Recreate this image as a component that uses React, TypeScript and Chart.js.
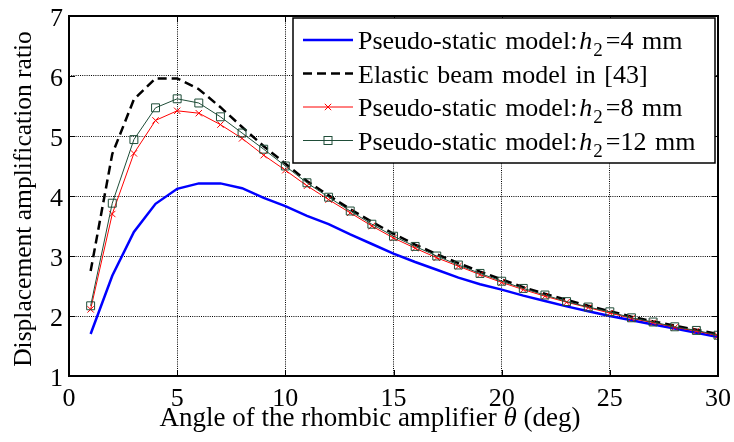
import React, { useEffect, useRef } from "react";
import { Chart, registerables } from "chart.js";

Chart.register(...registerables);

const angles = [1, 2, 3, 4, 5, 6, 7, 8, 9, 10, 11, 12, 13, 14, 15, 16, 17, 18, 19, 20, 21, 22, 23, 24, 25, 26, 27, 28, 29, 30];
const pseudoH4 = [1.70, 2.67, 3.40, 3.87, 4.12, 4.21, 4.21, 4.13, 3.97, 3.83, 3.67, 3.53, 3.36, 3.20, 3.04, 2.90, 2.77, 2.64, 2.53, 2.44, 2.34, 2.25, 2.16, 2.08, 2.00, 1.93, 1.86, 1.79, 1.72, 1.65];
const elasticBeam = [2.75, 4.70, 5.61, 5.96, 5.96, 5.78, 5.48, 5.15, 4.83, 4.54, 4.25, 4.01, 3.78, 3.57, 3.37, 3.19, 3.03, 2.88, 2.74, 2.61, 2.48, 2.37, 2.27, 2.17, 2.08, 1.99, 1.91, 1.84, 1.77, 1.70];
const pseudoH8 = [2.11, 3.70, 4.71, 5.26, 5.42, 5.38, 5.19, 4.96, 4.68, 4.43, 4.17, 3.94, 3.72, 3.50, 3.30, 3.13, 2.97, 2.83, 2.69, 2.56, 2.44, 2.33, 2.23, 2.14, 2.05, 1.96, 1.89, 1.81, 1.75, 1.67];
const pseudoH12 = [2.17, 3.88, 4.94, 5.47, 5.62, 5.55, 5.32, 5.05, 4.78, 4.50, 4.22, 3.98, 3.75, 3.53, 3.33, 3.16, 3.00, 2.85, 2.71, 2.58, 2.46, 2.35, 2.24, 2.15, 2.07, 1.97, 1.90, 1.82, 1.76, 1.68];

const xTickValues = [0, 5, 10, 15, 20, 25, 30];
const yTickValues = [1, 2, 3, 4, 5, 6, 7];
const xTickLabels = ["0", "5", "10", "15", "20", "25", "30"];
const yTickLabels = ["1", "2", "3", "4", "5", "6", "7"];

const xTitleParts = [
  { text: "Angle of the rhombic amplifier ", italic: false },
  { text: "θ", italic: true },
  { text: " (deg)", italic: false },
];
const yTitle = "Displacement amplification ratio";

const legendEntries = [
  { pre: "Pseudo-static model:", sym: "h", sub: "2", post: "=4 mm" },
  { pre: "Elastic beam model in [43]", sym: "", sub: "", post: "" },
  { pre: "Pseudo-static model:", sym: "h", sub: "2", post: "=8 mm" },
  { pre: "Pseudo-static model:", sym: "h", sub: "2", post: "=12 mm" },
];

const FONT = "Liberation Serif";
const GREEN = "#1F4D38";

Chart.defaults.font.family = FONT;

const toXY = (vals: number[]) => vals.map((v, i) => ({ x: angles[i], y: v }));

const decorPlugin = {
  id: "decor",
  afterDraw(chart: any) {
    const ctx = chart.ctx as CanvasRenderingContext2D;
    const { left, right, top, bottom } = chart.chartArea;
    const xs = chart.scales.x;
    const ys = chart.scales.y;
    ctx.save();
    // inward ticks
    ctx.strokeStyle = "#000";
    ctx.lineWidth = 1;
    ctx.setLineDash([]);
    const tl = 6;
    xTickValues.forEach((v) => {
      const px = Math.round(xs.getPixelForValue(v)) + 0.5;
      ctx.beginPath();
      ctx.moveTo(px, bottom);
      ctx.lineTo(px, bottom - tl);
      ctx.moveTo(px, top);
      ctx.lineTo(px, top + tl);
      ctx.stroke();
    });
    yTickValues.forEach((v) => {
      const py = Math.round(ys.getPixelForValue(v)) + 0.5;
      ctx.beginPath();
      ctx.moveTo(left, py);
      ctx.lineTo(left + tl, py);
      ctx.moveTo(right, py);
      ctx.lineTo(right - tl, py);
      ctx.stroke();
    });
    // frame
    ctx.lineWidth = 2;
    ctx.strokeRect(left, top, right - left, bottom - top);

    // tick labels
    ctx.fillStyle = "#000";
    ctx.font = `26px ${FONT}`;
    ctx.textBaseline = "alphabetic";
    ctx.textAlign = "center";
    xTickValues.forEach((v, i) => {
      ctx.fillText(xTickLabels[i], xs.getPixelForValue(v), bottom + 29.5);
    });
    ctx.textAlign = "right";
    yTickValues.forEach((v, i) => {
      ctx.fillText(yTickLabels[i], left - 6, ys.getPixelForValue(v) + 9.5);
    });

    // legend
    const lx = 293, ly = 18, lw = 422, lh = 145;
    ctx.fillStyle = "#fff";
    ctx.fillRect(lx, ly, lw, lh);
    ctx.lineWidth = 1.5;
    ctx.strokeStyle = "#000";
    ctx.strokeRect(lx, ly, lw, lh);
    const rows = [40, 73.5, 107, 140.5];
    const styles = [
      { color: "#0000FF", width: 2.5, dash: [] as number[], marker: "" },
      { color: "#000", width: 2.5, dash: [9, 5], marker: "" },
      { color: "#FF0000", width: 1, dash: [], marker: "x" },
      { color: GREEN, width: 1, dash: [], marker: "sq" },
    ];
    const fs = 26;
    (ctx as any).wordSpacing = "2px";
    legendEntries.forEach((e, i) => {
      const cy = rows[i];
      const s = styles[i];
      ctx.strokeStyle = s.color;
      ctx.lineWidth = s.width;
      ctx.setLineDash(s.dash);
      ctx.beginPath();
      ctx.moveTo(303, cy);
      ctx.lineTo(353, cy);
      ctx.stroke();
      ctx.setLineDash([]);
      ctx.lineWidth = 1;
      if (s.marker === "x") {
        const d = 3.2;
        ctx.beginPath();
        ctx.moveTo(328 - d, cy - d);
        ctx.lineTo(328 + d, cy + d);
        ctx.moveTo(328 + d, cy - d);
        ctx.lineTo(328 - d, cy + d);
        ctx.stroke();
      } else if (s.marker === "sq") {
        ctx.strokeRect(324, cy - 4, 8, 8);
      }
      ctx.fillStyle = "#000";
      ctx.textBaseline = "alphabetic";
      ctx.textAlign = "left";
      const base = cy + 9;
      let x = 358;
      ctx.font = `${fs}px ${FONT}`;
      ctx.fillText(e.pre, x, base);
      x += ctx.measureText(e.pre).width;
      if (e.sym) {
        x += 2;
        ctx.font = `italic ${fs}px ${FONT}`;
        ctx.fillText(e.sym, x, base);
        x += ctx.measureText(e.sym).width + 1;
        ctx.font = `19px ${FONT}`;
        ctx.fillText(e.sub, x, base + 7);
        x += ctx.measureText(e.sub).width + 3;
        ctx.font = `${fs}px ${FONT}`;
        ctx.fillText(e.post, x, base);
      }
    });
    (ctx as any).wordSpacing = "0px";

    // x title
    ctx.fillStyle = "#000";
    ctx.textBaseline = "middle";
    ctx.textAlign = "left";
    let total = 0;
    xTitleParts.forEach((p) => {
      ctx.font = `${p.italic ? "italic " : ""}27px ${FONT}`;
      total += ctx.measureText(p.text).width;
    });
    let tx = 370 - total / 2;
    xTitleParts.forEach((p) => {
      ctx.font = `${p.italic ? "italic " : ""}27px ${FONT}`;
      ctx.fillText(p.text, tx, 419);
      tx += ctx.measureText(p.text).width;
    });

    // y title
    ctx.translate(24, 199);
    ctx.rotate(-Math.PI / 2);
    ctx.textAlign = "center";
    ctx.font = `25.5px ${FONT}`;
    ctx.fillText(yTitle, 0, 0);
    ctx.restore();
  },
};

export default function App() {
  const ref = useRef<HTMLCanvasElement | null>(null);
  useEffect(() => {
    if (!ref.current) return;
    const chart = new Chart(ref.current, {
      type: "line",
      data: {
        datasets: [
          {
            label: "Pseudo-static model: h2=4 mm",
            data: toXY(pseudoH4),
            borderColor: "#0000FF",
            borderWidth: 2.5,
            pointRadius: 0,
            fill: false,
            order: 3,
          },
          {
            label: "Elastic beam model in [43]",
            data: toXY(elasticBeam),
            borderColor: "#000000",
            borderWidth: 2.5,
            borderDash: [9, 5],
            pointRadius: 0,
            fill: false,
            order: 2,
          },
          {
            label: "Pseudo-static model: h2=8 mm",
            data: toXY(pseudoH8),
            borderColor: "#FF0000",
            borderWidth: 1,
            pointStyle: "crossRot",
            pointRadius: 4.5,
            pointBorderColor: "#FF0000",
            pointBorderWidth: 1,
            fill: false,
            order: 1,
          },
          {
            label: "Pseudo-static model: h2=12 mm",
            data: toXY(pseudoH12),
            borderColor: GREEN,
            borderWidth: 1,
            pointStyle: "rect",
            pointRadius: 5.6,
            pointBorderColor: GREEN,
            pointBackgroundColor: "rgba(0,0,0,0)",
            pointBorderWidth: 1,
            fill: false,
            order: 0,
          },
        ],
      },
      options: {
        responsive: false,
        animation: false,
        devicePixelRatio: 1,
        layout: { padding: { left: 0, top: 16, right: 16, bottom: 0 } },
        plugins: { legend: { display: false }, tooltip: { enabled: false } },
        elements: { line: { tension: 0 } },
        scales: {
          x: {
            type: "linear",
            min: 0,
            max: 30,
            afterFit: (s: any) => {
              s.height = 66;
            },
            afterBuildTicks: (s: any) => {
              s.ticks = xTickValues.map((v) => ({ value: v }));
            },
            ticks: { display: false },
            grid: { color: "#000", lineWidth: 1, drawTicks: false },
            border: { display: false, dash: [1, 1.2] },
          },
          y: {
            type: "linear",
            min: 1,
            max: 7,
            afterFit: (s: any) => {
              s.width = 69;
            },
            afterBuildTicks: (s: any) => {
              s.ticks = yTickValues.map((v) => ({ value: v }));
            },
            ticks: { display: false },
            grid: { color: "#000", lineWidth: 1, drawTicks: false },
            border: { display: false, dash: [1, 1.2] },
          },
        },
      },
      plugins: [decorPlugin],
    });
    return () => chart.destroy();
  }, []);
  return (
    <div style={{ position: "absolute", left: 0, top: 0, width: 734, height: 442, background: "#fff" }}>
      <canvas ref={ref} width={734} height={442} style={{ display: "block" }} />
    </div>
  );
}
